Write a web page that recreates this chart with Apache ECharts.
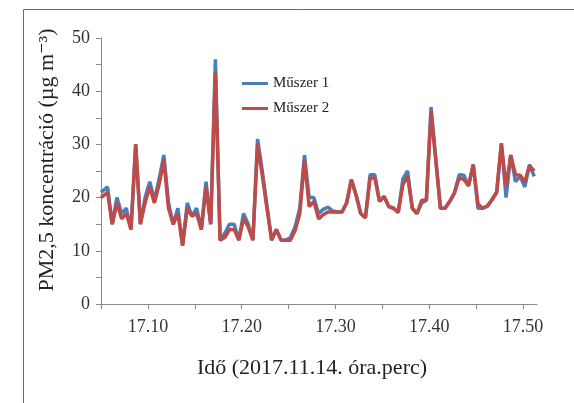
<!DOCTYPE html>
<html>
<head>
<meta charset="utf-8">
<script src="https://cdn.jsdelivr.net/npm/echarts@6/dist/echarts.min.js"></script>
<style>
html,body{margin:0;padding:0;background:#fff;}
#c{width:574px;height:403px;}
</style>
</head>
<body>
<div id="c"></div>
<script>
const times = [17.050, 17.057, 17.062, 17.067, 17.072, 17.077, 17.082, 17.087, 17.092, 17.097,
  17.102, 17.107, 17.112, 17.117, 17.122, 17.127, 17.132, 17.137, 17.142, 17.147,
  17.152, 17.157, 17.162, 17.167, 17.172, 17.177, 17.182, 17.187, 17.192, 17.197,
  17.202, 17.207, 17.212, 17.217, 17.222, 17.227, 17.232, 17.237, 17.242, 17.247,
  17.252, 17.257, 17.262, 17.267, 17.272, 17.277, 17.282, 17.287, 17.292, 17.297,
  17.302, 17.307, 17.312, 17.317, 17.322, 17.327, 17.332, 17.337, 17.342, 17.347,
  17.352, 17.357, 17.362, 17.367, 17.372, 17.377, 17.382, 17.387, 17.392, 17.397,
  17.402, 17.407, 17.412, 17.417, 17.422, 17.427, 17.432, 17.437, 17.442, 17.447,
  17.452, 17.457, 17.462, 17.467, 17.472, 17.477, 17.482, 17.487, 17.492, 17.497,
  17.502, 17.507, 17.512];
const muszer1 = [21, 22, 15, 20, 17, 18, 14, 30, 15, 20,
  23, 19.5, 23.5, 28, 19, 15, 18, 11, 19, 16.5,
  18, 14, 23, 15, 46, 12, 13.3, 15, 15, 12,
  17, 15, 12, 31, 25, 18.4, 12, 14, 12, 12,
  12.5, 14.5, 18, 28, 20, 20, 17, 17.8, 18.2, 17.5,
  17.3, 17.3, 19, 23.4, 20.5, 17, 16.2, 24.3, 24.3, 19.3,
  20.2, 18.3, 18, 17.2, 23.5, 25, 18, 17, 19, 19.5,
  37, 27.5, 18, 18, 19.3, 20.9, 24.3, 24.2, 22.2, 26.2,
  18, 18, 18.4, 19.6, 21, 30.2, 20, 28, 23, 24,
  22, 26.2, 24];
const muszer2 = [20, 21, 15, 19, 16, 17, 14, 30, 15, 19,
  22, 19, 22.5, 27, 18, 15, 17, 11, 18, 16.5,
  17, 14, 22, 15, 43.5, 12, 12.5, 14, 14, 12,
  16, 14.5, 12, 30, 24.2, 18, 12, 14, 12, 12,
  12, 13.8, 17, 27, 18.3, 19.3, 16, 16.8, 17.3, 17.3,
  17.3, 17.3, 19, 23.4, 20.5, 17, 16.2, 23.7, 23.7, 19.3,
  20.2, 18.3, 18, 17.2, 22.5, 24, 18, 17, 19.5, 19.5,
  36, 27, 18, 18, 19.3, 20.9, 23.7, 23.4, 22.2, 26.2,
  18.8, 18, 18.4, 19.6, 21, 30.2, 22, 28, 24.3, 24.2,
  23, 26, 25];
const xTickValues = [17.05, 17.10, 17.15, 17.20, 17.25, 17.30, 17.35, 17.40, 17.45, 17.50];
const xLabelValues = [17.10, 17.20, 17.30, 17.40, 17.50];
const seriesNames = ['Műszer 1', 'Műszer 2'];
const xTitle = 'Idő (2017.11.14. óra.perc)';
const yTitle = 'PM2,5 koncentráció (µg m⁻³)';

const FONT = '"Liberation Serif", "DejaVu Serif", serif';
const chart = echarts.init(document.getElementById('c'), null, {renderer: 'canvas'});
const pair = (arr) => times.map((t, i) => [t, arr[i]]);

chart.setOption({
  animation: false,
  backgroundColor: '#fff',
  graphic: [
    {type: 'rect', left: 21, top: 7, silent: true,
      shape: {x: 0, y: 0, width: 700, height: 600},
      style: {fill: 'none', stroke: '#6a6a6a', lineWidth: 1}},
    {type: 'text', x: 312, y: 368, silent: true,
      style: {text: xTitle, font: '22px ' + FONT, fill: '#222', textAlign: 'center', textVerticalAlign: 'middle'}},
    {type: 'text', x: 47, y: 160, rotation: Math.PI / 2, silent: true,
      style: {text: yTitle, font: '22px ' + FONT, fill: '#222', textAlign: 'center', textVerticalAlign: 'middle'}}
  ],
  grid: {left: 101, right: 37, top: 38, bottom: 99, containLabel: false},
  legend: {
    orient: 'vertical', left: 237, top: 71,
    itemWidth: 26, itemHeight: 3, itemGap: 10, icon: 'rect',
    textStyle: {fontFamily: FONT, fontSize: 15, color: '#222'},
    data: seriesNames
  },
  xAxis: {
    type: 'value', min: 17.05, max: 17.515,
    axisLine: {show: true, lineStyle: {color: '#8a8a8a', width: 1}},
    axisTick: {show: true, length: 5, customValues: xTickValues, lineStyle: {color: '#8a8a8a'}},
    axisLabel: {customValues: xLabelValues, margin: 14, fontFamily: FONT, fontSize: 18, color: '#333',
      formatter: (v) => v.toFixed(2)},
    splitLine: {show: false}
  },
  yAxis: {
    type: 'value', min: 0, max: 50, interval: 10,
    axisLine: {show: true, lineStyle: {color: '#8a8a8a', width: 1}},
    axisTick: {show: true, length: 5, lineStyle: {color: '#8a8a8a'}},
    minorTick: {show: true, splitNumber: 2, length: 5, lineStyle: {color: '#8a8a8a'}},
    axisLabel: {margin: 11, fontFamily: FONT, fontSize: 18, color: '#333'},
    splitLine: {show: false}, minorSplitLine: {show: false}
  },
  series: [
    {name: seriesNames[0], type: 'line', data: pair(muszer1), showSymbol: false, symbol: 'none',
      lineStyle: {color: '#4A7EBB', width: 3.5}, itemStyle: {color: '#4A7EBB'}, z: 2},
    {name: seriesNames[1], type: 'line', data: pair(muszer2), showSymbol: false, symbol: 'none',
      lineStyle: {color: '#BE4B48', width: 3.5}, itemStyle: {color: '#BE4B48'}, z: 3}
  ]
});
</script>
</body>
</html>
